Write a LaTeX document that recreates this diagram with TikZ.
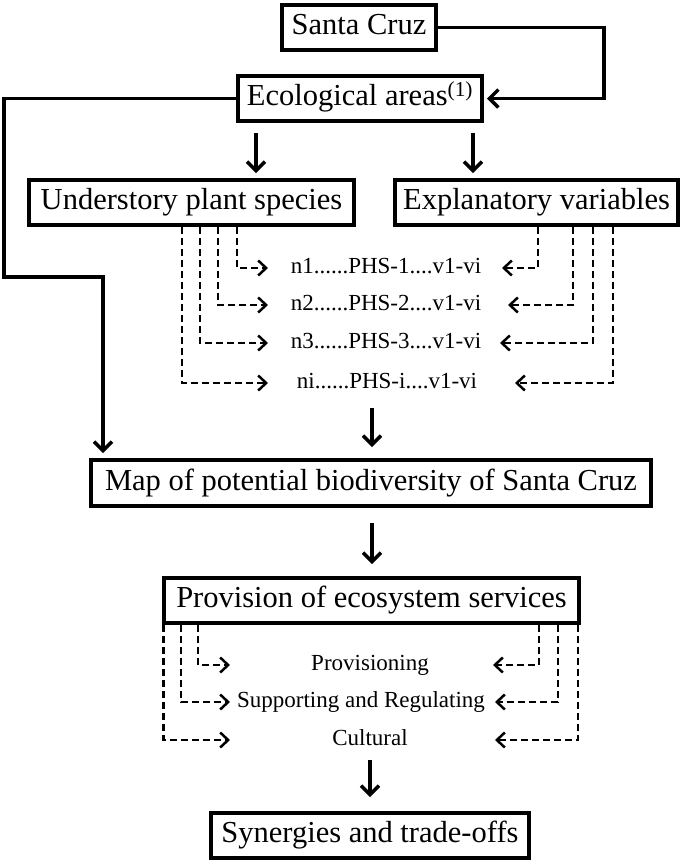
\documentclass[tikz,border=0pt]{standalone}
\usepackage{fontspec}
\setmainfont{Liberation Serif}
\usetikzlibrary{arrows.meta,calc}
\begin{document}
\begin{tikzpicture}[x=1pt,y=-1pt,
  box/.style={draw, line width=4pt, inner sep=0pt, text height=20.5pt, text depth=6pt, font=\fontsize{30.5}{36}\selectfont},
  lbl/.style={inner sep=0pt, text height=15.5pt, text depth=5pt, font=\fontsize{23}{28}\selectfont},
  arr/.style={line width=3.2pt, -{Straight Barb[length=9pt,width=18pt,line width=3.4pt]}},
  darr/.style={line width=2.3pt, dash pattern=on 7pt off 4pt, -{Straight Barb[length=8pt,width=15pt,line width=2.5pt]}},
]
\useasboundingbox (0,0) rectangle (685,863);

% boxes
\node[box, minimum width=154pt, minimum height=45pt] (sc)   at (359,27.5)  {Santa Cruz};
\node[box, minimum width=244pt, minimum height=45pt] (eco)  at (360,98.5)  {Ecological areas\textsuperscript{(1)}};
\node[box, minimum width=325pt, minimum height=45pt] (und)  at (191.5,202.5) {Understory plant species};
\node[box, minimum width=283pt, minimum height=45pt] (exp)  at (536.5,202.5) {Explanatory variables};
\node[box, minimum width=560pt, minimum height=46pt] (map)  at (371,483)   {Map of potential biodiversity of Santa Cruz};
\node[box, minimum width=415pt, minimum height=45pt] (prov) at (371.5,600.5) {Provision of ecosystem services};
\node[box, minimum width=318pt, minimum height=45pt] (syn)  at (370,835.5) {Synergies and trade-offs};

% row labels
\node[lbl] (r1) at (386,268) {n1......PHS-1....v1-vi};
\node[lbl] (r2) at (386,305) {n2......PHS-2....v1-vi};
\node[lbl] (r3) at (386,343) {n3......PHS-3....v1-vi};
\node[lbl] (r4) at (387,383) {ni......PHS-i....v1-vi};

\node[lbl] (p1) at (370,665) {Provisioning};
\node[lbl] (p2) at (361,702) {Supporting and Regulating};
\node[lbl] (p3) at (370,740) {Cultural};

% helper coordinates
\coordinate (kR) at (604,0);
\coordinate (kL) at (4,277);
\coordinate (kM) at (103,0);
\coordinate (xa) at (256,0);
\coordinate (xb) at (473,0);
\coordinate (m1) at (372,408);
\coordinate (s1) at (370,760);

\coordinate (L1) at (237,0); \coordinate (L2) at (218,0);
\coordinate (L3) at (200,0); \coordinate (L4) at (182,0);
\coordinate (R1) at (538,0); \coordinate (R2) at (573,0);
\coordinate (R3) at (593,0); \coordinate (R4) at (613,0);
\coordinate (lt1) at (268,268); \coordinate (lt2) at (268,305);
\coordinate (lt3) at (268,343); \coordinate (lt4) at (268,383);
\coordinate (rt1) at (502,268); \coordinate (rt2) at (508,305);
\coordinate (rt3) at (500,343); \coordinate (rt4) at (515,383);

\coordinate (PL1) at (198,0); \coordinate (PL2) at (181,0); \coordinate (PL3) at (163.5,0);
\coordinate (PR1) at (539,0); \coordinate (PR2) at (558,0); \coordinate (PR3) at (578,0);
\coordinate (plt1) at (230,665); \coordinate (plt2) at (230,702); \coordinate (plt3) at (230,740);
\coordinate (prt1) at (493,665); \coordinate (prt2) at (495,702); \coordinate (prt3) at (495,740);

% solid connectors
\draw[arr, shorten >=3pt] (sc.east) -- (sc.east -| kR) -- (eco.east -| kR) -- (eco.east);
\draw[arr, shorten >=5pt] (eco.west) -| (kL) -| (map.north -| kM);
\draw[arr, shorten <=10pt, shorten >=5pt] (eco.south -| xa) -- (und.north -| xa);
\draw[arr, shorten <=10pt, shorten >=5pt] (eco.south -| xb) -- (exp.north -| xb);
\draw[arr, shorten >=11pt] (m1) -- (map.north -| m1);
\draw[arr, shorten <=15pt, shorten >=12pt] (map.south -| m1) -- (prov.north -| m1);
\draw[arr, shorten >=14pt] (s1) -- (syn.north -| s1);

% dashed connectors, first block
\draw[darr] (und.south -| L1) |- (lt1);
\draw[darr] (und.south -| L2) |- (lt2);
\draw[darr] (und.south -| L3) |- (lt3);
\draw[darr] (und.south -| L4) |- (lt4);
\draw[darr] (exp.south -| R1) |- (rt1);
\draw[darr] (exp.south -| R2) |- (rt2);
\draw[darr] (exp.south -| R3) |- (rt3);
\draw[darr] (exp.south -| R4) |- (rt4);

% dashed connectors, second block
\draw[darr] (prov.south -| PL1) |- (plt1);
\draw[darr] (prov.south -| PL2) |- (plt2);
\draw[darr] (prov.south -| PL3) |- (plt3);
\draw[darr] (prov.south -| PR1) |- (prt1);
\draw[darr] (prov.south -| PR2) |- (prt2);
\draw[darr] (prov.south -| PR3) |- (prt3);
\end{tikzpicture}
\end{document}
